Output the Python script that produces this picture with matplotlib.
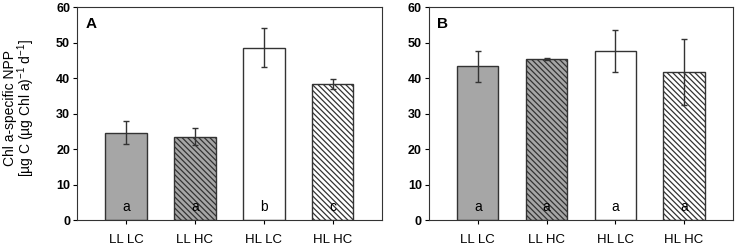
import matplotlib.pyplot as plt
import numpy as np

plt.rcParams['font.family'] = ['Liberation Sans', 'DejaVu Sans']
plt.rcParams['hatch.linewidth'] = 0.9

categories = ['LL LC', 'LL HC', 'HL LC', 'HL HC']

# panel A
vals_a = [24.6, 23.5, 48.5, 38.4]
err_a = [3.2, 2.3, 5.5, 1.4]
letters_a = ['a', 'a', 'b', 'c']

# panel B
vals_b = [43.3, 45.3, 47.6, 41.6]
err_b = [4.3, 0.2, 6.0, 9.3]
letters_b = ['a', 'a', 'a', 'a']

fills = ['#a6a6a6', '#a6a6a6', 'white', 'white']
hatches = [None, '\\' * 6, None, '\\' * 6]

fig = plt.figure(figsize=(7.37, 2.45), dpi=100)
ax_a = fig.add_axes([0.1045, 0.102, 0.4135, 0.8694])
ax_b = fig.add_axes([0.582, 0.102, 0.4125, 0.8694])

x = np.arange(len(categories))

for ax, vals, errs, letters, tag in [(ax_a, vals_a, err_a, letters_a, 'A'),
                                     (ax_b, vals_b, err_b, letters_b, 'B')]:
    for i in range(len(categories)):
        ax.bar(x[i], vals[i], width=0.6, color=fills[i], edgecolor='#333333',
               linewidth=1.0, hatch=hatches[i], zorder=2)
        ax.text(x[i], 3.7, letters[i], ha='center', va='center', fontsize=10, zorder=3)
    ax.errorbar(x, vals, yerr=errs, fmt='none', ecolor='#333333', elinewidth=1.0,
                capsize=2.5, capthick=1.0, zorder=4)
    ax.set_xlim(-0.71, 3.71)
    ax.set_ylim(0, 60)
    ax.set_yticks(range(0, 61, 10))
    ax.set_xticks(x)
    ax.set_xticklabels(categories, fontsize=9.5)
    for lab in ax.get_yticklabels():
        lab.set_fontweight('bold')
        lab.set_fontsize(9)
    ax.tick_params(axis='y', length=3, width=0.8, pad=2)
    ax.tick_params(axis='x', length=3, width=0.8, pad=7)
    for s in ax.spines.values():
        s.set_linewidth(0.8)
        s.set_color('#333333')
    ax.text(0.028, 0.92, tag, transform=ax.transAxes, fontsize=11,
            fontweight='bold', ha='left', va='center')

fig.text(0.013, 0.56, 'Chl a-specific NPP', rotation=90, ha='center', va='center', fontsize=10)
fig.text(0.036, 0.56, '[µg C (µg Chl a)$^{\\mathregular{-1}}$ d$^{\\mathregular{-1}}$]',
         rotation=90, ha='center', va='center', fontsize=10)

plt.savefig('out.png', dpi=100)
